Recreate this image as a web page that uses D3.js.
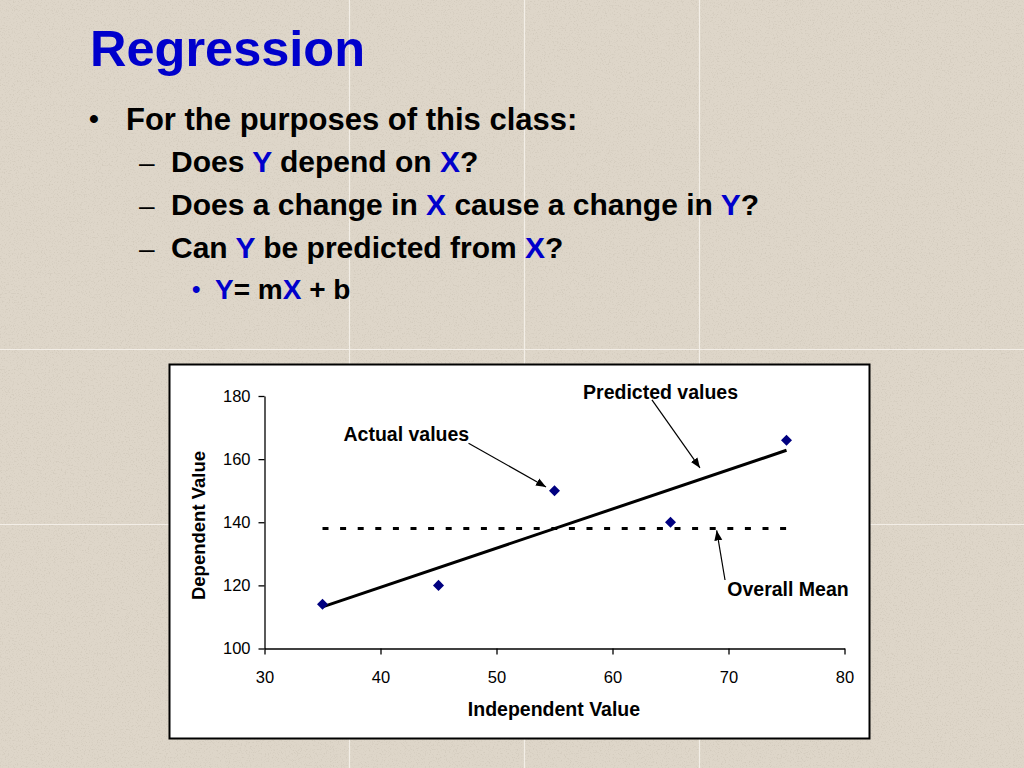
<!DOCTYPE html>
<html>
<head>
<meta charset="utf-8">
<script src="https://cdn.jsdelivr.net/npm/d3@7"></script>
<style>
  html, body { margin: 0; padding: 0; background: #DBD3C6; }
  svg { display: block; font-family: "Liberation Sans", Arial, Helvetica, sans-serif; }
</style>
</head>
<body>
<svg id="slide" width="1024" height="768"></svg>
<script>
// ---- data ----
const xValues = [35, 45, 55, 65, 75];
const yValues = [114, 120, 150, 140, 166];
const predictedX = [35, 75];
const predictedY = [113.2, 162.8];
const meanX = [35, 75];
const meanY = [138, 138];
const xTicks = [30, 40, 50, 60, 70, 80];
const yTicks = [100, 120, 140, 160, 180];
const xDomain = [30, 80];
const yDomain = [100, 180];
const xTitle = "Independent Value";
const yTitle = "Dependent Value";
const annotationLabels = ["Predicted values", "Actual values", "Overall Mean"];
// annotation anchors in data units: label start, arrow tail, arrow tip
const annotationLabelX = [57.46, 36.81, 69.9];
const annotationLabelY = [179.1, 165.6, 116.65];
const arrowTailX = [63.4, 47.59, 69.7];
const arrowTailY = [178.8, 165.0, 121.7];
const arrowTipX = [67.54, 54.27, 68.98];
const arrowTipY = [157.2, 151.2, 137.4];

const svg = d3.select("#slide");

// ---- background ----
const defs = svg.append("defs");
const grain = defs.append("filter").attr("id", "grain")
  .attr("filterUnits", "userSpaceOnUse")
  .attr("x", 0).attr("y", 0).attr("width", 1024).attr("height", 768);
grain.append("feTurbulence").attr("type", "fractalNoise")
  .attr("baseFrequency", 0.75).attr("numOctaves", 3).attr("seed", 7).attr("result", "n");
grain.append("feColorMatrix").attr("type", "matrix")
  .attr("values", "0 0 0 0 0.55  0 0 0 0 0.50  0 0 0 0 0.42  4 0 0 0 -2.1");

svg.append("rect").attr("width", 1024).attr("height", 768).attr("fill", "#DED6C9");
svg.append("rect").attr("width", 1024).attr("height", 768).attr("fill", "#fff")
  .attr("filter", "url(#grain)").attr("opacity", 0.4);

const seamX = [349.5, 524.5, 699.5], seamY = [349.5, 524.5];
svg.selectAll(".seamx").data(seamX).join("line")
  .attr("x1", d => d).attr("x2", d => d).attr("y1", 0).attr("y2", 768)
  .attr("stroke", "#F3EEE7").attr("stroke-width", 1.2);
svg.selectAll(".seamy").data(seamY).join("line")
  .attr("y1", d => d).attr("y2", d => d).attr("x1", 0).attr("x2", 1024)
  .attr("stroke", "#F3EEE7").attr("stroke-width", 1.2);

// ---- slide text ----
const blue = "#0000CC";
svg.append("text").attr("x", 90).attr("y", 66)
  .attr("font-size", 50.5).attr("font-weight", "bold").attr("fill", blue).text("Regression");

svg.append("text").attr("x", 89).attr("y", 128)
  .attr("font-size", 28).attr("font-weight", "bold").attr("fill", "#000").text("•");
svg.append("text").attr("x", 126).attr("y", 130)
  .attr("font-size", 31).attr("font-weight", "bold").attr("fill", "#000")
  .text("For the purposes of this class:");

const subLines = [
  [["Does ", "#000"], ["Y", blue], [" depend on ", "#000"], ["X", blue], ["?", "#000"]],
  [["Does a change in ", "#000"], ["X", blue], [" cause a change in ", "#000"], ["Y", blue], ["?", "#000"]],
  [["Can ", "#000"], ["Y", blue], [" be predicted from ", "#000"], ["X", blue], ["?", "#000"]]
];
const subBase = [172, 215, 258];
subLines.forEach((parts, i) => {
  svg.append("text").attr("x", 139).attr("y", subBase[i])
    .attr("font-size", 28).attr("fill", "#000").text("–");
  const t = svg.append("text").attr("x", 171).attr("y", subBase[i])
    .attr("font-size", 30).attr("font-weight", "bold")
    .style("white-space", "pre");
  parts.forEach(p => t.append("tspan").attr("fill", p[1]).text(p[0]));
});
svg.append("text").attr("x", 192).attr("y", 297)
  .attr("font-size", 24).attr("font-weight", "bold").attr("fill", blue).text("•");
const eq = svg.append("text").attr("x", 215).attr("y", 299)
  .attr("font-size", 28).attr("font-weight", "bold").style("white-space", "pre");
[["Y", blue], ["= m", "#000"], ["X", blue], [" + b", "#000"]]
  .forEach(p => eq.append("tspan").attr("fill", p[1]).text(p[0]));

// ---- chart box ----
svg.append("rect").attr("x", 169.5).attr("y", 364.5).attr("width", 700).attr("height", 374)
  .attr("fill", "#fff").attr("stroke", "#000").attr("stroke-width", 2);

const x = d3.scaleLinear().domain(xDomain).range([264.5, 844.5]);
const y = d3.scaleLinear().domain(yDomain).range([648.5, 396]);

const xAxis = svg.append("g").attr("transform", `translate(0,${y(yDomain[0])})`)
  .call(d3.axisBottom(x).tickValues(xTicks).tickSize(6).tickSizeOuter(0).tickPadding(17));
const yAxis = svg.append("g").attr("transform", `translate(${x(xDomain[0])},0)`)
  .call(d3.axisLeft(y).tickValues(yTicks).tickSize(6).tickSizeOuter(0).tickPadding(8));
[xAxis, yAxis].forEach(a => {
  a.selectAll("path, line").attr("stroke", "#000").attr("stroke-width", 1.3);
  a.selectAll("text").attr("font-size", 16.5).attr("fill", "#000")
    .attr("font-family", "'Liberation Sans', Arial, sans-serif");
});

svg.append("text").attr("x", (x(30) + x(80)) / 2 - 0.5).attr("y", 716)
  .attr("text-anchor", "middle").attr("font-size", 19.5).attr("font-weight", "bold").text(xTitle);
svg.append("text").attr("transform", `translate(205,525.5) rotate(-90)`)
  .attr("text-anchor", "middle").attr("font-size", 18.5).attr("font-weight", "bold").text(yTitle);

// mean line (dashed)
svg.append("path")
  .attr("d", d3.line().x(d => x(d[0])).y(d => y(d[1]))(meanX.map((v, i) => [v, meanY[i]])))
  .attr("stroke", "#000").attr("stroke-width", 3).attr("stroke-dasharray", "6 11.6").attr("fill", "none");

// predicted (regression) line
svg.append("path")
  .attr("d", d3.line().x(d => x(d[0])).y(d => y(d[1]))(predictedX.map((v, i) => [v, predictedY[i]])))
  .attr("stroke", "#000").attr("stroke-width", 3).attr("fill", "none");

// actual points
svg.selectAll(".pt").data(xValues.map((v, i) => [v, yValues[i]])).join("path")
  .attr("d", d3.symbol().type(d3.symbolDiamond2).size(78)())
  .attr("transform", d => `translate(${x(d[0])},${y(d[1])})`)
  .attr("fill", "#000080");

// annotations
defs.append("marker").attr("id", "ah").attr("viewBox", "0 0 10 10")
  .attr("refX", 10).attr("refY", 5).attr("markerWidth", 10).attr("markerHeight", 10)
  .attr("markerUnits", "userSpaceOnUse").attr("orient", "auto")
  .append("path").attr("d", "M0,1 L10,5 L0,9 Z").attr("fill", "#000");

annotationLabels.forEach((lab, i) => {
  svg.append("line")
    .attr("x1", x(arrowTailX[i])).attr("y1", y(arrowTailY[i]))
    .attr("x2", x(arrowTipX[i])).attr("y2", y(arrowTipY[i]))
    .attr("stroke", "#000").attr("stroke-width", 1.2).attr("marker-end", "url(#ah)");
  svg.append("text").attr("x", x(annotationLabelX[i])).attr("y", y(annotationLabelY[i]))
    .attr("font-size", 19.5).attr("font-weight", "bold").attr("fill", "#000").text(lab);
});
</script>
</body>
</html>
